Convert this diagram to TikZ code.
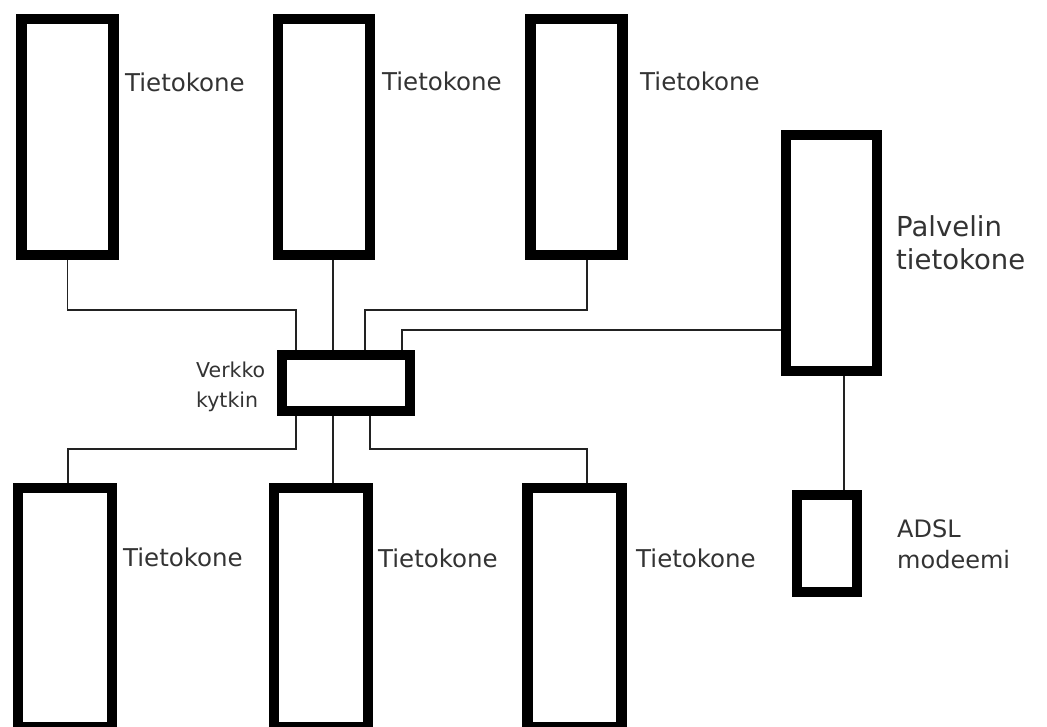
\documentclass[tikz,border=0pt]{standalone}
\usepackage{fontspec}
\setmainfont{DejaVu Sans}
\usetikzlibrary{calc}
\definecolor{txt}{HTML}{333333}
\definecolor{wire}{HTML}{222222}
\begin{document}
\begin{tikzpicture}[x=1pt,y=-1pt,
  dev/.style={draw=black,line width=10.5pt,rectangle,inner sep=0pt,fill=white},
  pc/.style={dev,minimum width=92pt,minimum height=236pt},
  pcb/.style={dev,minimum width=94pt,minimum height=239pt},
  lbl/.style={text=txt,inner sep=0pt,anchor=base west,font=\fontsize{24.5}{30}\selectfont},
  lbl2/.style={text=txt,inner sep=0pt,anchor=base west,align=left,font=\fontsize{24}{31}\selectfont},
  wirel/.style={draw=wire,line width=1.8pt}]
\useasboundingbox (0,0) rectangle (1047,727);
\clip (0,0) rectangle (1047,727);
\fill[white] (0,0) rectangle (1047,727);

% devices
\node[pc] (t1) at (67.5,137) {};
\node[pc] (t2) at (324,137) {};
\node[pc] (t3) at (576.5,137) {};
\node[dev,minimum width=91pt,minimum height=236pt] (sv) at (831.5,253) {};
\node[dev,minimum width=128pt,minimum height=56pt] (sw) at (346,383) {};
\node[pcb] (t4) at (65,607.5) {};
\node[pcb] (t5) at (321,607.5) {};
\node[pcb] (t6) at (574.5,607.5) {};
\node[dev,minimum width=60pt,minimum height=97pt] (md) at (827,543.5) {};

% connectors
\draw[wirel] (t1.south) -- ++(0,50) -| ([xshift=-50pt]sw.north);
\draw[wirel] ([xshift=9pt]t2.south) -- ([xshift=9pt]t2.south |- sw.north);
\draw[wirel] ([xshift=10.5pt]t3.south) -- ++(0,50) -| ([xshift=19pt]sw.north);
\draw[wirel] (sv.west |- 0,330) -| ([xshift=56pt]sw.north);
\draw[wirel] ([xshift=12.5pt]sv.south) -- ([xshift=12.5pt]sv.south |- md.north);
\draw[wirel] ([xshift=-50pt]sw.south) -- ++(0,33) -| ([xshift=3pt]t4.north);
\draw[wirel] ([xshift=-13pt]sw.south) -- ([xshift=-13pt]sw.south |- t5.north);
\draw[wirel] ([xshift=24pt]sw.south) -- ++(0,33) -| ([xshift=12.5pt]t6.north);

% labels
\node[lbl] (l1) at (125,92) {Tietokone};
\node[lbl] (l2) at (382,91) {Tietokone};
\node[lbl] (l3) at (640,91) {Tietokone};
\node[lbl] (l4) at (123,566) {Tietokone};
\node[lbl] (l5) at (378,567) {Tietokone};
\node[lbl] (l6) at (636,567) {Tietokone};
\node[lbl2,font=\fontsize{20.5}{30}\selectfont] (lsw) at (196,407) {Verkko\\kytkin};
\node[lbl2,font=\fontsize{27.5}{33}\selectfont] (lsv) at (896,270) {Palvelin\\tietokone};
\node[lbl2] (lmd) at (897,568) {ADSL\\modeemi};
\end{tikzpicture}
\end{document}
